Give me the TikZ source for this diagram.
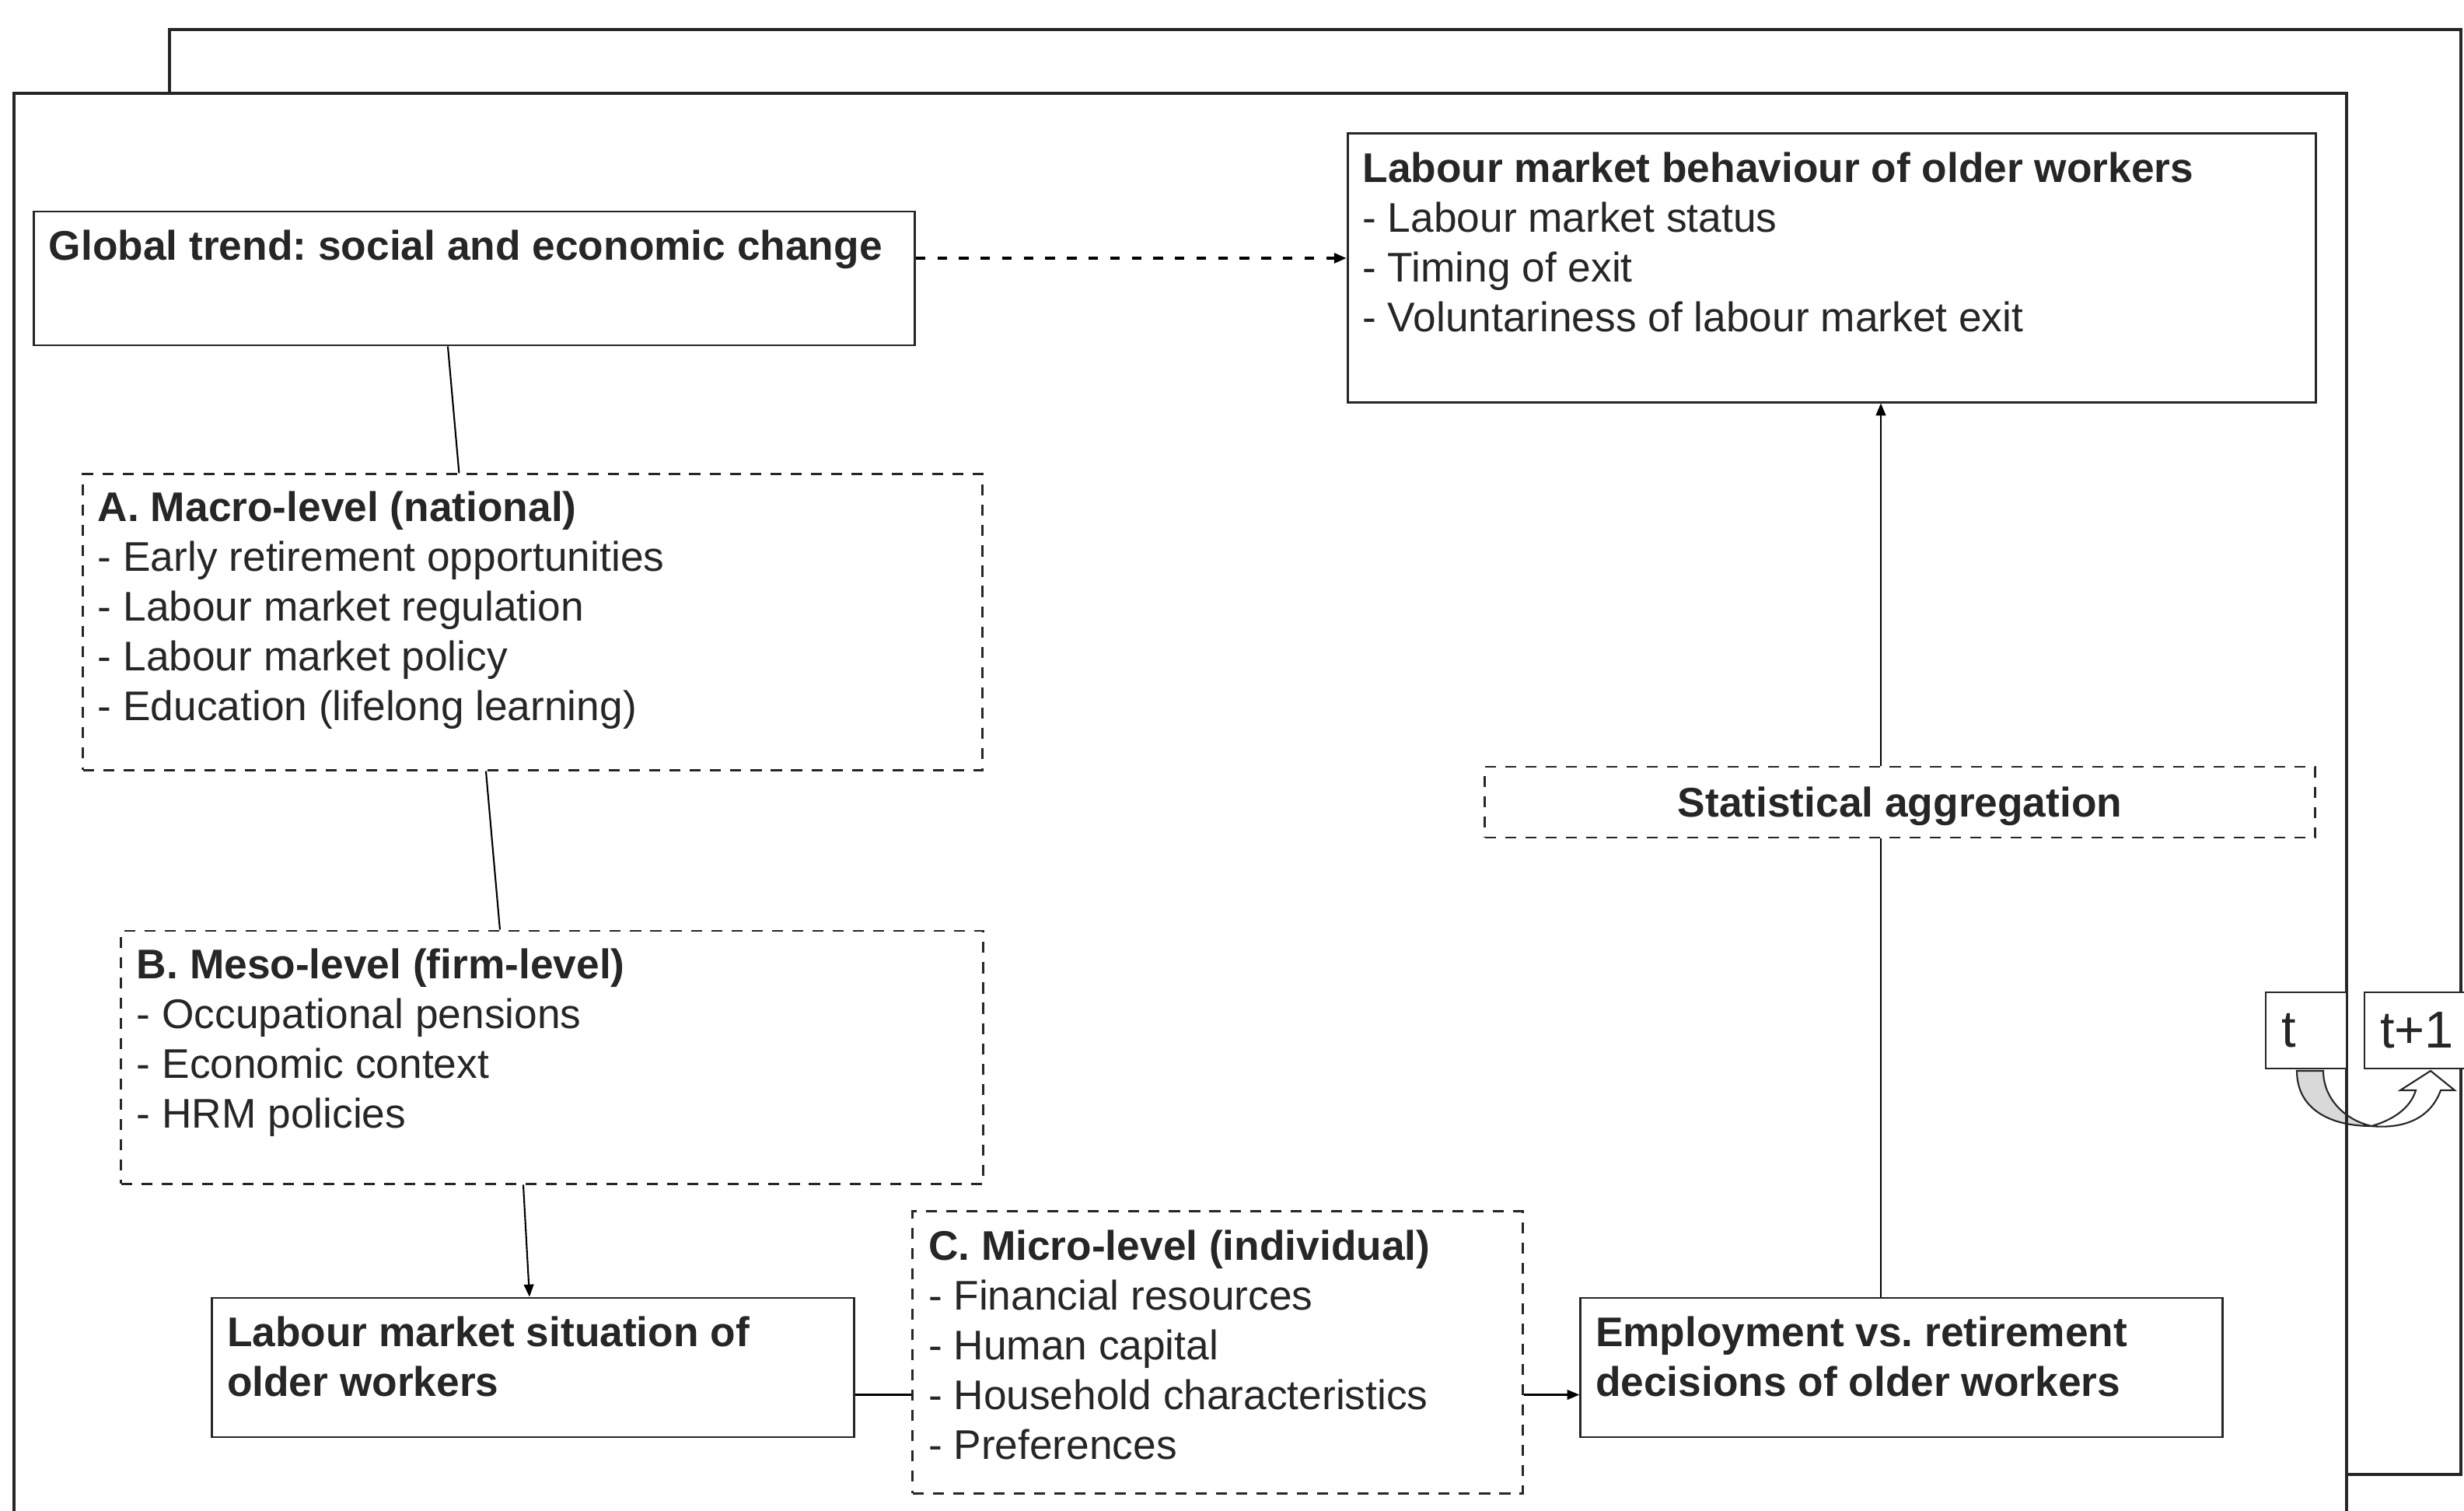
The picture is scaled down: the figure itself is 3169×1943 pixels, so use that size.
\documentclass[tikz,border=0pt]{standalone}
\usepackage{fontspec}
\setmainfont{Liberation Sans}
\usetikzlibrary{arrows.meta, positioning}

\definecolor{ink}{gray}{0.15}
\frenchspacing

\begin{document}
\begin{tikzpicture}[
  x=0.01cm, y=-0.01cm,
  font=\fontsize{15.15}{18.2}\selectfont,
  text=ink,
  box/.style={draw=ink, line width=0.8pt, fill=white, inner sep=0pt},
  dbox/.style={box, dash pattern=on 4pt off 3.4pt},
  txt/.style={anchor=north west, align=left, inner sep=0pt},
  tbox/.style={box, minimum height=0.98cm, align=left, inner xsep=0.2cm, font=\fontsize{19}{22}\selectfont},
  panel/.style={draw=ink, line width=1pt},
  link/.style={draw=black, line width=0.6pt},
  arr/.style={link, -{Triangle[length=4.5pt, width=3.6pt]}}
]
\clip (0,0) rectangle (3169,1943);

% two stacked panels: period t in front, t+1 behind
\draw[panel, fill=white] (218,38) rectangle (3165,1896);
\fill[white] (18,120) rectangle (3018,1960);

% turning arrow from t to t+1
\filldraw[fill=gray!30, draw=ink, line width=0.6pt] (2954,1377) .. controls (2954,1425) and (2995,1448) .. (3050,1448) .. controls (3015,1440) and (2988,1412) .. (2988,1377) -- cycle;
\filldraw[fill=white, draw=ink, line width=0.6pt] (3050,1448) .. controls (3078,1440) and (3100,1425) .. (3107,1402) -- (3087,1402) -- (3126,1377) -- (3157,1402) -- (3139,1402) .. controls (3126,1438) and (3092,1452) .. (3050,1448);

\draw[panel] (18,1960) -- (18,120) -- (3018,120) -- (3018,1960);

\node[box, minimum width=11.32cm, minimum height=1.72cm] (global) at (610,358) {};
\node[txt] (global-txt) at ([shift={(20,25)}]global.north west) {\textbf{Global trend: social and economic change}};

\node[box, minimum width=12.45cm, minimum height=3.45cm] (behaviour) at (2356,344.5) {};
\node[txt] (behaviour-txt) at ([shift={(20,25)}]behaviour.north west) {\textbf{Labour market behaviour of older workers}\\- Labour market status\\- Timing of exit\\- Voluntariness of labour market exit};

\node[dbox, minimum width=11.56cm, minimum height=3.80cm] (macro) at (685,800) {};
\node[txt] (macro-txt) at ([shift={(20,23)}]macro.north west) {\textbf{A. Macro-level (national)}\\- Early retirement opportunities\\- Labour market regulation\\- Labour market policy\\- Education (lifelong learning)};

\node[dbox, minimum width=11.08cm, minimum height=3.25cm] (meso) at (710,1359.5) {};
\node[txt] (meso-txt) at ([shift={(21,24)}]meso.north west) {\textbf{B. Meso-level (firm-level)}\\- Occupational pensions\\- Economic context\\- HRM policies};

\node[box, minimum width=8.25cm, minimum height=1.79cm] (situation) at (685.5,1758.5) {};
\node[txt] (situation-txt) at ([shift={(20,25)}]situation.north west) {\textbf{Labour market situation of}\\\textbf{older workers}};

\node[dbox, minimum width=7.84cm, minimum height=3.62cm] (micro) at (1566,1739) {};
\node[txt] (micro-txt) at ([shift={(21,25)}]micro.north west) {\textbf{C. Micro-level (individual)}\\- Financial resources\\- Human capital\\- Household characteristics\\- Preferences};

\node[box, minimum width=8.25cm, minimum height=1.79cm] (decision) at (2445.5,1758.5) {};
\node[txt] (decision-txt) at ([shift={(20,25)}]decision.north west) {\textbf{Employment vs. retirement}\\\textbf{decisions of older workers}};

\node[dbox, minimum width=10.67cm, minimum height=0.91cm, text depth=0pt] (aggregation) at (2443.5,1031.5) {\textbf{Statistical aggregation}};

\node[tbox, text width=0.64cm] (tnow) at (2966,1325) {t};
\node[tbox, text width=1.0cm] (tnext) at (3111,1325) {t+1};

% connectors
\draw[link] ([xshift=-0.34cm]global.south) -- ([xshift=-0.945cm]macro.north);
\draw[link] ([xshift=-0.60cm]macro.south) -- ([xshift=-0.67cm]meso.north);
\draw[arr] ([xshift=-0.37cm]meso.south) -- ([xshift=-0.045cm]situation.north);
\draw[link] ([yshift=-0.35cm]situation.east) -- ([yshift=-0.35cm]situation.east -| micro.west);
\draw[arr] ([yshift=-0.35cm]situation.east -| micro.east) -- ([yshift=-0.35cm]situation.east -| decision.west);
\draw[link] ([xshift=-0.265cm]decision.north) -- ([xshift=-0.265cm]decision.north |- aggregation.south);
\draw[arr] ([xshift=-0.245cm]aggregation.north) -- ([xshift=-0.245cm]aggregation.north |- behaviour.south);
\draw[arr, line width=1pt, dash pattern=on 3.5pt off 4.4pt] ([yshift=0.26cm]global.east) -- ([yshift=0.26cm]global.east -| behaviour.west);
\end{tikzpicture}
\end{document}
